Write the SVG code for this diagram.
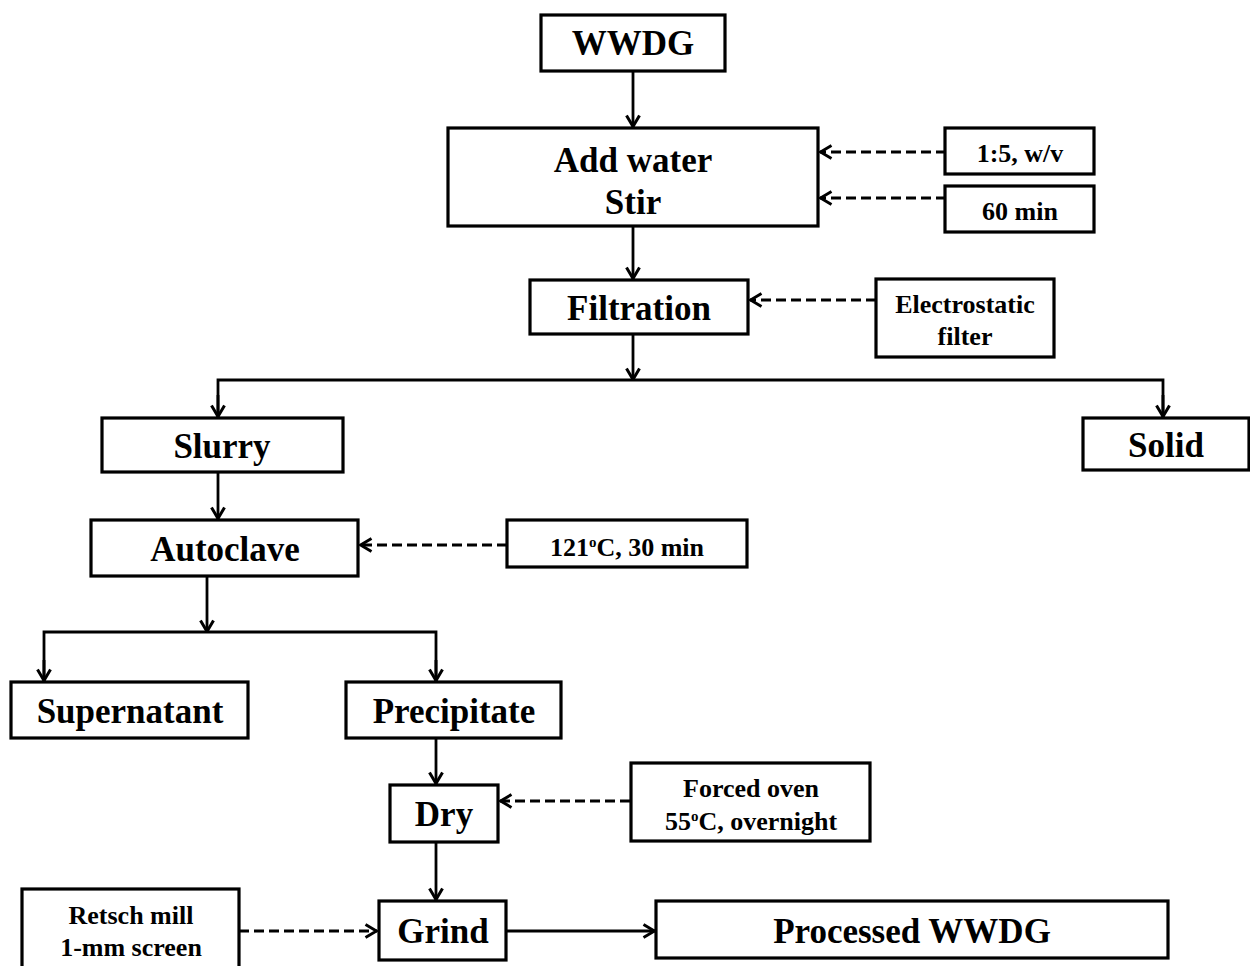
<svg xmlns="http://www.w3.org/2000/svg" width="1250" height="966" viewBox="0 0 1250 966">
<defs>
<style>
.box{fill:#fff;stroke:#000;stroke-width:3.2}
.t{font-family:"Liberation Serif","Times New Roman",serif;font-weight:bold;fill:#000;text-anchor:middle}
.L{font-size:35px}
.S{font-size:26px}
.c{fill:none;stroke:#000;stroke-width:2.8}
.d{stroke-dasharray:10 5}
</style>
<marker id="ah" viewBox="0 0 14 16" refX="13" refY="8" markerWidth="14" markerHeight="16" markerUnits="userSpaceOnUse" orient="auto">
<path d="M1.5,1.5 L12.5,8 L1.5,14.5" fill="none" stroke="#000" stroke-width="3"/>
</marker>
</defs>
<rect width="1250" height="966" fill="#fff"/>
<g id="connectors">
<path class="c" d="M633,71 V127" marker-end="url(#ah)"/>
<path class="c d" d="M946,152 H820" marker-end="url(#ah)"/>
<path class="c d" d="M946,198 H820" marker-end="url(#ah)"/>
<path class="c" d="M633,226 V279" marker-end="url(#ah)"/>
<path class="c d" d="M876,300 H750" marker-end="url(#ah)"/>
<path class="c" d="M633,334 V380" marker-end="url(#ah)"/>
<path class="c" d="M218,417 V380 H1163 V417"/>
<path class="c" d="M218,395 V417" marker-end="url(#ah)"/>
<path class="c" d="M1163,395 V417" marker-end="url(#ah)"/>
<path class="c" d="M218,472 V519" marker-end="url(#ah)"/>
<path class="c d" d="M507,545 H360" marker-end="url(#ah)"/>
<path class="c" d="M207,576 V632" marker-end="url(#ah)"/>
<path class="c" d="M44,681 V632 H436 V681"/>
<path class="c" d="M44,660 V681" marker-end="url(#ah)"/>
<path class="c" d="M436,660 V681" marker-end="url(#ah)"/>
<path class="c" d="M436,738 V784" marker-end="url(#ah)"/>
<path class="c d" d="M630,801 H500" marker-end="url(#ah)"/>
<path class="c" d="M436,842 V900" marker-end="url(#ah)"/>
<path class="c d" d="M239,931 H377" marker-end="url(#ah)"/>
<path class="c" d="M506,931 H655" marker-end="url(#ah)"/>
</g>
<g id="wwdg"><rect class="box" x="541" y="15" width="184" height="56"/><text class="t L" x="633" y="55">WWDG</text></g>
<g id="addwater"><rect class="box" x="448" y="128" width="370" height="98"/><text class="t L" x="633" y="172">Add water</text><text class="t L" x="633" y="214">Stir</text></g>
<g id="ratio"><rect class="box" x="945" y="128" width="149" height="46"/><text class="t S" x="1020" y="162">1:5, w/v</text></g>
<g id="time60"><rect class="box" x="945" y="186" width="149" height="46"/><text class="t S" x="1020" y="220">60 min</text></g>
<g id="filtration"><rect class="box" x="530" y="280" width="218" height="54"/><text class="t L" x="639" y="320">Filtration</text></g>
<g id="electrostatic"><rect class="box" x="876" y="279" width="178" height="78"/><text class="t S" x="965" y="313">Electrostatic</text><text class="t S" x="965" y="345">filter</text></g>
<g id="slurry"><rect class="box" x="102" y="418" width="241" height="54"/><text class="t L" x="222" y="458">Slurry</text></g>
<g id="solid"><rect class="box" x="1083" y="418" width="166" height="52"/><text class="t L" x="1166" y="457">Solid</text></g>
<g id="autoclave"><rect class="box" x="91" y="520" width="267" height="56"/><text class="t L" x="225" y="561">Autoclave</text></g>
<g id="temp121"><rect class="box" x="507" y="520" width="240" height="47"/><text class="t S" x="627" y="556">121<tspan font-size="15" dy="-9">o</tspan><tspan dy="9">C, 30 min</tspan></text></g>
<g id="supernatant"><rect class="box" x="11" y="682" width="237" height="56"/><text class="t L" x="130" y="723">Supernatant</text></g>
<g id="precipitate"><rect class="box" x="346" y="682" width="215" height="56"/><text class="t L" x="454" y="723">Precipitate</text></g>
<g id="dry"><rect class="box" x="390" y="785" width="108" height="57"/><text class="t L" x="444" y="826">Dry</text></g>
<g id="oven"><rect class="box" x="631" y="763" width="239" height="78"/><text class="t S" x="751" y="797">Forced oven</text><text class="t S" x="751" y="830">55<tspan font-size="15" dy="-9">o</tspan><tspan dy="9">C, overnight</tspan></text></g>
<g id="grind"><rect class="box" x="379" y="901" width="127" height="59"/><text class="t L" x="443" y="943">Grind</text></g>
<g id="retsch"><rect class="box" x="22" y="889" width="217" height="80"/><text class="t S" x="131" y="924">Retsch mill</text><text class="t S" x="131" y="956">1-mm screen</text></g>
<g id="processed"><rect class="box" x="656" y="901" width="512" height="57"/><text class="t L" x="912" y="943">Processed WWDG</text></g>
</svg>
